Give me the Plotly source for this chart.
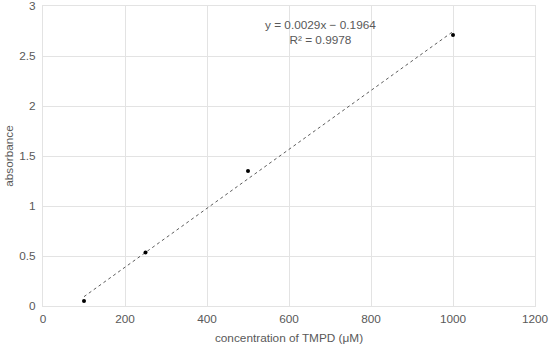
import numpy as np
import plotly.graph_objects as go

# data
conc = [100, 250, 500, 1000]
absorb = [0.05, 0.535, 1.35, 2.71]

eq_text = "y = 0.0029x \u2212 0.1964"
r2_text = "R\u00b2 = 0.9978"

x_ticks = [0, 200, 400, 600, 800, 1000, 1200]
y_ticks = [0, 0.5, 1, 1.5, 2, 2.5, 3]

# linear trendline through the points
slope, intercept = np.polyfit(conc, absorb, 1)
line_x = [conc[0], conc[-1]]
line_y = [slope * v + intercept for v in line_x]

grey = "#595959"
grid = "#e3e3e3"
fsize = 11.8

fig = go.Figure()
fig.add_trace(go.Scatter(
    x=line_x, y=line_y, mode="lines",
    line=dict(color="#333333", width=0.8, dash="dot"),
    hoverinfo="skip"
))
fig.add_trace(go.Scatter(
    x=conc, y=absorb, mode="markers",
    marker=dict(color="black", size=4, symbol="circle")
))

fig.add_annotation(
    x=0.565, y=0.968, xref="paper", yref="paper",
    text=eq_text + "<br>" + r2_text, showarrow=False,
    font=dict(size=fsize, color=grey), align="center"
)

fig.update_layout(
    width=550, height=347,
    margin=dict(l=43, r=15, t=6, b=41),
    paper_bgcolor="white", plot_bgcolor="white",
    showlegend=False,
    font=dict(family="Liberation Sans, Arial, sans-serif", size=fsize, color=grey),
    xaxis=dict(
        range=[0, 1200], tickvals=x_ticks, showgrid=True, gridcolor=grid,
        zeroline=False, showline=True, linecolor=grid, mirror=True,
        automargin=False, ticks="", ticklabelstandoff=2,
        ticklabeloverflow="allow",
        title=dict(text="concentration of TMPD (\u03bcM)", standoff=8,
                   font=dict(size=fsize, color=grey))
    ),
    yaxis=dict(
        range=[0, 3], tickvals=y_ticks, showgrid=True, gridcolor=grid,
        zeroline=False, showline=True, linecolor=grid, mirror=True,
        automargin=False, ticks="", ticklabelstandoff=4,
        ticklabeloverflow="allow",
        title=dict(text="absorbance", standoff=3, font=dict(size=fsize, color=grey))
    ),
)

# drop the page's default body margin so the figure sits at the window corner
fig.write_html("out.html", config={"displayModeBar": False},
               post_script="document.body.style.margin='0';")
